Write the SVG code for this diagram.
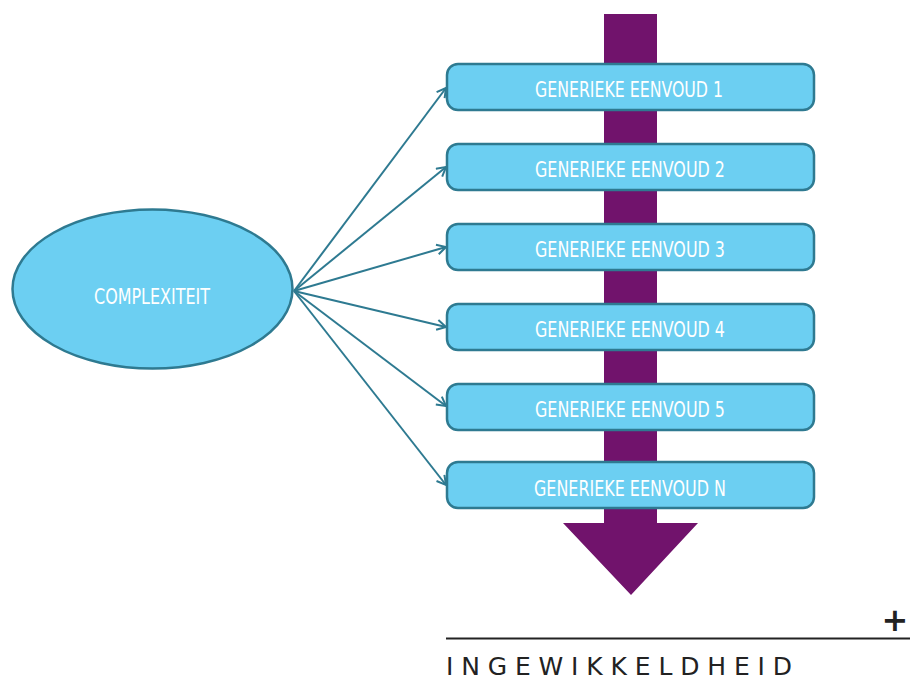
<svg xmlns="http://www.w3.org/2000/svg" width="910" height="680" viewBox="0 0 910 680">
<style>
.box{fill:#6ccff2;stroke:#2e7a91;stroke-width:2.5}
.lbl{font-family:"DejaVu Sans Condensed","Liberation Sans",sans-serif;font-size:21px;fill:#fff;text-anchor:middle}
.conn{stroke:#2e7a91;stroke-width:2;fill:none;marker-end:url(#ah)}
</style>
<defs>
<marker id="ah" markerWidth="12" markerHeight="12" refX="10" refY="6" orient="auto" markerUnits="userSpaceOnUse">
<path d="M1,1 L10,6 L1,11" fill="none" stroke="#2e7a91" stroke-width="2"/>
</marker>
</defs>
<rect width="910" height="680" fill="#fff"/>
<g id="bigarrow">
<polygon points="604,14 657,14 657,523 698,523 631,595 563,523 604,523" fill="#71136c"/>
</g>
<g id="connectors">
<line class="conn" x1="294" y1="291" x2="446" y2="88"/>
<line class="conn" x1="294" y1="291" x2="446" y2="167"/>
<line class="conn" x1="294" y1="291" x2="446" y2="247"/>
<line class="conn" x1="294" y1="291" x2="446" y2="327"/>
<line class="conn" x1="294" y1="291" x2="446" y2="406"/>
<line class="conn" x1="294" y1="291" x2="446" y2="485"/>
</g>
<g id="complexiteit">
<ellipse class="box" cx="152.5" cy="289" rx="140" ry="79.5"/>
<text class="lbl" x="152" y="304" textLength="116" lengthAdjust="spacingAndGlyphs">COMPLEXITEIT</text>
</g>
<g id="box1"><rect class="box" x="447" y="64" width="367" height="46" rx="11"/><text class="lbl" x="629" y="97" textLength="188" lengthAdjust="spacingAndGlyphs">GENERIEKE EENVOUD 1</text></g>
<g id="box2"><rect class="box" x="447" y="144" width="367" height="46" rx="11"/><text class="lbl" x="630" y="177" textLength="190" lengthAdjust="spacingAndGlyphs">GENERIEKE EENVOUD 2</text></g>
<g id="box3"><rect class="box" x="447" y="224" width="367" height="46" rx="11"/><text class="lbl" x="630" y="257" textLength="190" lengthAdjust="spacingAndGlyphs">GENERIEKE EENVOUD 3</text></g>
<g id="box4"><rect class="box" x="447" y="304" width="367" height="46" rx="11"/><text class="lbl" x="630" y="337" textLength="190" lengthAdjust="spacingAndGlyphs">GENERIEKE EENVOUD 4</text></g>
<g id="box5"><rect class="box" x="447" y="384" width="367" height="46" rx="11"/><text class="lbl" x="630" y="417" textLength="190" lengthAdjust="spacingAndGlyphs">GENERIEKE EENVOUD 5</text></g>
<g id="boxN"><rect class="box" x="447" y="462" width="367" height="46" rx="11"/><text class="lbl" x="630" y="496" textLength="192" lengthAdjust="spacingAndGlyphs">GENERIEKE EENVOUD N</text></g>
<g id="axis">
<line x1="446" y1="638.5" x2="910" y2="638.5" stroke="#222" stroke-width="2"/>
<text x="895" y="631" font-family="DejaVu Sans,sans-serif" font-weight="bold" font-size="32" fill="#222" text-anchor="middle">+</text>
<text x="446" y="675" font-family="DejaVu Sans,sans-serif" font-size="25" fill="#222" textLength="346" lengthAdjust="spacing">INGEWIKKELDHEID</text>
</g>
</svg>
